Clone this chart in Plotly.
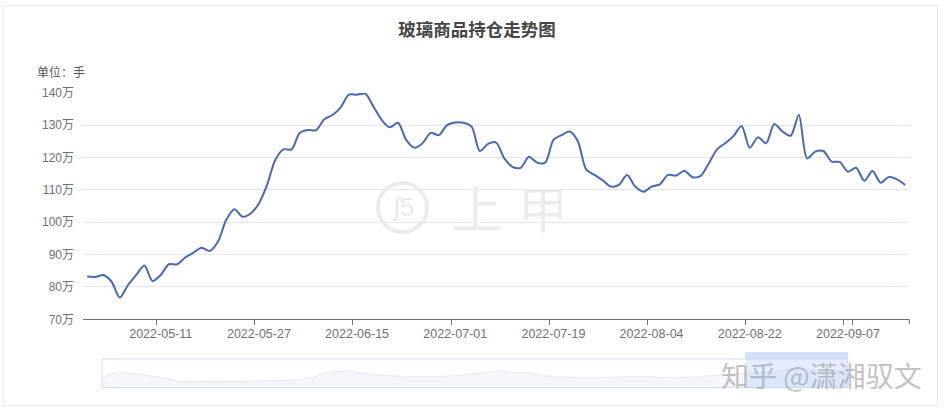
import plotly.graph_objects as go

W, H = 946, 413

# ---- data ----
dates = (
    ["2022-04-25", "2022-04-26", "2022-04-27", "2022-04-28", "2022-04-29"]
    + ["2022-05-%02d" % d for d in [5, 6, 9, 10, 11, 12, 13, 16, 17, 18, 19, 20, 23, 24, 25, 26, 27, 30, 31]]
    + ["2022-06-%02d" % d for d in [1, 2, 6, 7, 8, 9, 10, 13, 14, 15, 16, 17, 20, 21, 22, 23, 24, 27, 28, 29, 30]]
    + ["2022-07-%02d" % d for d in [1, 4, 5, 6, 7, 8, 11, 12, 13, 14, 15, 18, 19, 20, 21, 22, 25, 26, 27, 28, 29]]
    + ["2022-08-%02d" % d for d in [1, 2, 3, 4, 5, 8, 9, 10, 11, 12, 15, 16, 17, 18, 19, 22, 23, 24, 25, 26, 29, 30, 31]]
    + ["2022-09-%02d" % d for d in [1, 2, 5, 6, 7, 8, 9, 13, 14, 15, 16, 19]]
)

# open interest, unit: 万手
holdings = [
    83.2, 83.1, 83.7, 81.6, 76.7, 80.6, 83.7, 86.6, 81.8, 83.7,
    87.0, 87.0, 89.1, 90.6, 92.1, 91.1, 94.0, 100.7, 104.0, 101.7,
    102.7, 105.8, 111.5, 119.2, 122.5, 122.5, 127.6, 128.5, 128.4, 131.8,
    133.1, 135.5, 139.4, 139.4, 139.7, 135.7, 131.6, 129.3, 130.7, 125.4,
    123.0, 124.4, 127.6, 126.9, 130.0, 130.8, 130.7, 129.5, 122.0, 124.2,
    124.6, 119.7, 117.1, 116.8, 120.2, 118.4, 118.4, 125.4, 126.9, 128.0,
    124.9, 116.3, 114.6, 113.0, 111.0, 111.5, 114.6, 111.0, 109.4, 111.0,
    111.7, 114.6, 114.4, 115.9, 113.9, 114.3, 118.2, 122.5, 124.4, 126.6,
    129.7, 123.0, 126.2, 124.4, 130.3, 128.0, 126.7, 133.1, 119.7, 121.8,
    122.0, 118.7, 118.6, 115.6, 116.8, 112.8, 115.8, 112.2, 114.0, 113.2,
    111.5,
]

tick_dates = ["2022-05-11", "2022-05-27", "2022-06-15", "2022-07-01",
              "2022-07-19", "2022-08-04", "2022-08-22", "2022-09-07"]
y_ticks = [70, 80, 90, 100, 110, 120, 130, 140]
y_ticktext = [f"{v}万" for v in y_ticks]

# data-zoom slider shadow (long history, relative height)
shadow = [10, 16, 14, 12, 10, 6.5, 6, 6, 6, 6, 6.5, 7, 7, 8, 11, 16, 17, 15, 13, 12,
          11, 11, 11, 12, 13, 15, 17, 15, 15, 12, 11, 10, 10, 10, 11, 11, 11, 10, 10, 11,
          12, 13, 14, 15, 16, 18, 18, 17, 17, 16]
window_start = 0.862  # selected window (fraction of slider)

title = "玻璃商品持仓走势图"
unit_label = "单位：手"

# ---- geometry helpers (pixels -> paper) ----
def px(x):
    return x / W

def py(y):
    return 1 - y / H

font_fam = "Liberation Sans, Noto Sans CJK SC, sans-serif"
cjk = "Noto Sans CJK SC, sans-serif"

fig = go.Figure()

fig.add_trace(go.Scatter(
    x=dates, y=holdings, mode="lines",
    line=dict(color="#4b69b1", width=2, shape="spline", smoothing=0.8),
    hoverinfo="x+y", showlegend=False,
))

# slider shadow
sx = list(range(len(shadow)))
fig.add_trace(go.Scatter(
    x=sx, y=shadow, mode="lines", xaxis="x2", yaxis="y2",
    line=dict(color="#e3e8f2", width=1), fill="tozeroy",
    fillcolor="rgba(210,219,238,0.25)", showlegend=False, hoverinfo="skip",
))

fig.update_layout(
    width=W, height=H,
    margin=dict(l=0, r=0, t=0, b=0, autoexpand=False),
    paper_bgcolor="white", plot_bgcolor="white",
    font=dict(family=font_fam, size=12, color="#6E7079"),
    title=dict(text=f"<b>{title}</b>", x=px(477), xanchor="center",
               y=py(30), yanchor="middle", automargin=False,
               font=dict(family=cjk, size=17.5, color="#464646")),
    xaxis=dict(
        type="category", domain=[px(83), px(909.3)],
        range=[-0.5, len(dates) - 0.5],
        tickvals=tick_dates, ticktext=tick_dates, tickson="boundaries",
        tickangle=0, automargin=False, ticklabelstandoff=3,
        ticks="outside", ticklen=5, tickcolor="#6E7079",
        showline=True, linecolor="#6E7079", linewidth=1,
        showgrid=False, zeroline=False, anchor="y",
        tickfont=dict(size=12.5, color="#6E7079"),
    ),
    yaxis=dict(
        domain=[py(319.3), py(92.7)], range=[70, 140], automargin=False,
        tickvals=y_ticks, ticktext=y_ticktext,
        showgrid=True, gridcolor="#E0E6F1", gridwidth=1,
        showline=False, zeroline=False, ticks="", ticklabelstandoff=8,
        tickfont=dict(size=12, color="#6E7079"),
    ),
    xaxis2=dict(domain=[px(102), px(848)], range=[0, len(shadow) - 1],
                visible=False, anchor="y2"),
    yaxis2=dict(domain=[py(387.7), py(359)], range=[0, 28.7],
                visible=False, anchor="x2"),
)

shapes = [
    # outer frame
    dict(type="rect", xref="paper", yref="paper", x0=px(3.5), x1=px(937.5),
         y0=py(405.5), y1=py(5.5), line=dict(color="#e8e8e8", width=1), layer="below"),
    # end tick of the category axis
    dict(type="line", xref="x domain", yref="paper", x0=1, x1=1,
         y0=py(319.3), y1=py(324.3), line=dict(color="#6E7079", width=1)),
    # slider box
    dict(type="rect", xref="x2 domain", yref="y2 domain", x0=0, x1=1, y0=0, y1=1,
         line=dict(color="#d2dbee", width=1), layer="above"),
    # selected window
    dict(type="rect", xref="x2 domain", yref="y2 domain", x0=window_start, x1=1, y0=0, y1=1,
         fillcolor="rgba(135,175,255,0.22)", line=dict(width=0), layer="above"),
    # move handle
    dict(type="rect", xref="x2 domain", yref="paper", x0=window_start, x1=1,
         y0=py(359), y1=py(352), fillcolor="rgba(175,198,240,0.55)", line=dict(width=0)),
    # watermark logo circle
    dict(type="circle", xref="paper", yref="paper", x0=px(378), x1=px(427),
         y0=py(232), y1=py(183), line=dict(color="#ebebeb", width=4), layer="below"),
]
fig.update_layout(shapes=shapes)

annotations = [
    dict(text=unit_label, x=px(35), y=py(71), xref="paper", yref="paper",
         xanchor="left", yanchor="middle", showarrow=False,
         font=dict(family=cjk, size=12, color="#555")),
    dict(text="ʃ5", x=px(402.5), y=py(207), xref="paper", yref="paper",
         xanchor="center", yanchor="middle", showarrow=False,
         font=dict(family=font_fam, size=26, color="#ebebeb")),
    dict(text="上", x=px(477), y=py(206), xref="paper", yref="paper",
         xanchor="center", yanchor="middle", showarrow=False,
         font=dict(family=cjk, size=50, color="#ececec")),
    dict(text="甲", x=px(543), y=py(206), xref="paper", yref="paper",
         xanchor="center", yanchor="middle", showarrow=False,
         font=dict(family=cjk, size=50, color="#ececec")),
    dict(text="知乎 @潇湘驭文", x=px(821), y=py(375), xref="paper", yref="paper",
         xanchor="center", yanchor="middle", showarrow=False,
         font=dict(family=cjk, size=28, color="rgba(160,160,160,0.65)")),
]
fig.update_layout(annotations=annotations)

fig.write_html("out.html")
